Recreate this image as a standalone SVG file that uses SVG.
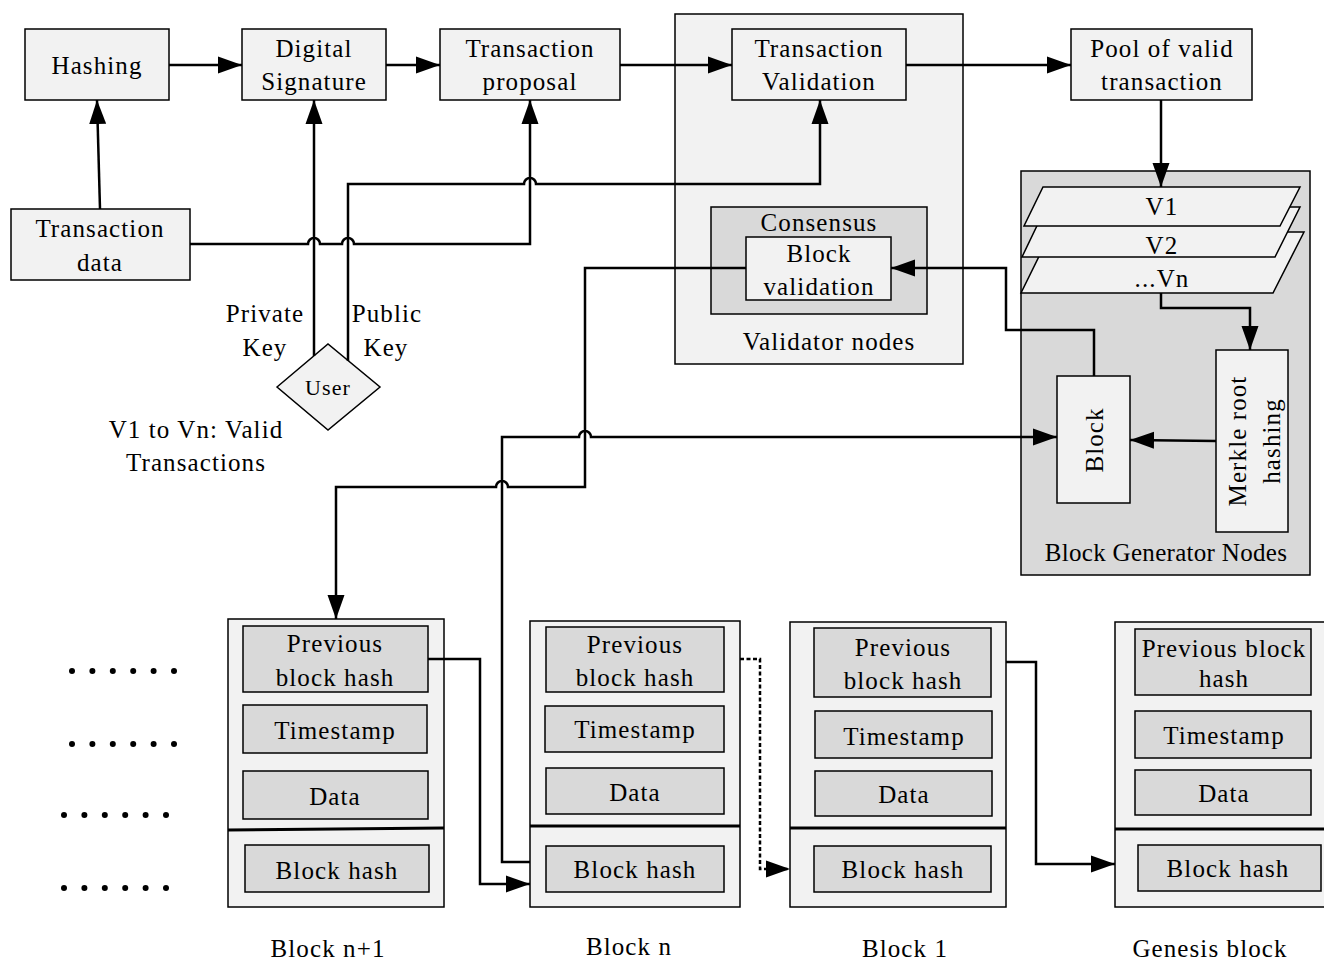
<svg xmlns="http://www.w3.org/2000/svg" width="1324" height="962" viewBox="0 0 1324 962">
<style>
text{font-family:"Liberation Serif","DejaVu Serif",serif;font-size:25px;fill:#000;text-anchor:middle;letter-spacing:1.1px}
.lt{fill:#f2f2f2;stroke:#000;stroke-width:1.5}
.dk{fill:#d9d9d9;stroke:#000;stroke-width:1.5}
.c{fill:none;stroke:#000;stroke-width:2.5}
.a{marker-end:url(#ah)}
.sep{stroke:#000;stroke-width:3.2}
.dot{fill:#000}
</style>
<defs>
<marker id="ah" markerUnits="userSpaceOnUse" markerWidth="26" markerHeight="20" refX="24" refY="10" orient="auto">
<path d="M0,1.5 L24,10 L0,18.5 Z" fill="#000"/>
</marker>
</defs>
<rect width="1324" height="962" fill="#fff"/>

<g id="validator-nodes">
<rect class="lt" x="675" y="14" width="288" height="350"/>
<text x="829" y="350">Validator nodes</text>
</g>
<g id="block-generator-nodes">
<rect class="dk" x="1021" y="171" width="289" height="404"/>
<text x="1166" y="561" style="letter-spacing:0.3px">Block Generator Nodes</text>
</g>

<g id="hashing"><rect class="lt" x="25" y="29" width="144" height="71"/><text x="97" y="74">Hashing</text></g>
<g id="digital-signature"><rect class="lt" x="242" y="29" width="144" height="71"/><text x="314" y="57">Digital</text><text x="314" y="90">Signature</text></g>
<g id="transaction-proposal"><rect class="lt" x="440" y="29" width="180" height="71"/><text x="530" y="57">Transaction</text><text x="530" y="90">proposal</text></g>
<g id="transaction-validation"><rect class="lt" x="732" y="29" width="174" height="71"/><text x="819" y="57">Transaction</text><text x="819" y="90">Validation</text></g>
<g id="pool"><rect class="lt" x="1071" y="29" width="181" height="71"/><text x="1162" y="57">Pool of valid</text><text x="1162" y="90">transaction</text></g>
<g id="transaction-data"><rect class="lt" x="11" y="209" width="179" height="71"/><text x="100" y="237">Transaction</text><text x="100" y="271">data</text></g>
<g id="user"><polygon class="lt" points="277,387 328,344 380,387 328,430"/><text x="328" y="395" style="font-size:22px">User</text></g>
<g id="consensus">
<rect class="dk" x="711" y="207" width="216" height="107"/>
<text x="819" y="231">Consensus</text>
</g>
<g id="block-validation"><rect class="lt" x="746" y="237" width="145" height="63"/><text x="819" y="262">Block</text><text x="819" y="295">validation</text></g>
<g id="vn"><polygon class="lt" points="1051,232 1304,232 1273,293 1021,293"/><text x="1162" y="287">...Vn</text></g>
<g id="v2"><polygon class="lt" points="1046,207 1300,207 1275,257 1022,257"/><text x="1162" y="254">V2</text></g>
<g id="v1"><polygon class="lt" points="1043,187 1300,187 1280,226 1024,226"/><text x="1162" y="215">V1</text></g>
<g id="merkle"><rect class="lt" x="1216" y="350" width="72" height="182"/>
<text transform="translate(1252,441) rotate(-90)" x="0" y="-6">Merkle root</text>
<text transform="translate(1252,441) rotate(-90)" x="0" y="28">hashing</text></g>
<g id="block"><rect class="lt" x="1057" y="376" width="73" height="127"/>
<text transform="translate(1094,440) rotate(-90)" x="0" y="9">Block</text></g>

<g id="labels">
<text x="265" y="322">Private</text><text x="265" y="356">Key</text>
<text x="387" y="322">Public</text><text x="386" y="356">Key</text>
<text x="196" y="438">V1 to Vn: Valid</text><text x="196" y="471">Transactions</text>
</g>

<g id="block-n1">
<rect class="lt" x="228" y="619" width="216" height="288"/>
<rect class="dk" x="243" y="626" width="185" height="66"/>
<rect class="dk" x="243" y="705" width="184" height="48"/>
<rect class="dk" x="243" y="771" width="185" height="48"/>
<line class="sep" x1="228" y1="830" x2="444" y2="828"/>
<rect class="dk" x="245" y="845" width="184" height="47"/>
<text x="335" y="652">Previous</text><text x="335" y="686">block hash</text>
<text x="335" y="739">Timestamp</text><text x="335" y="805">Data</text><text x="337" y="879">Block hash</text>
<text x="328" y="957">Block n+1</text>
</g>
<g id="block-n">
<rect class="lt" x="530" y="621" width="210" height="286"/>
<rect class="dk" x="546" y="627" width="178" height="65"/>
<rect class="dk" x="545" y="706" width="179" height="46"/>
<rect class="dk" x="546" y="768" width="178" height="46"/>
<line class="sep" x1="530" y1="826" x2="740" y2="826"/>
<rect class="dk" x="546" y="846" width="178" height="46"/>
<text x="635" y="653">Previous</text><text x="635" y="686">block hash</text>
<text x="635" y="738">Timestamp</text><text x="635" y="801">Data</text><text x="635" y="878">Block hash</text>
<text x="629" y="955">Block n</text>
</g>
<g id="block-1">
<rect class="lt" x="790" y="622" width="216" height="285"/>
<rect class="dk" x="814" y="628" width="177" height="69"/>
<rect class="dk" x="815" y="711" width="177" height="47"/>
<rect class="dk" x="815" y="771" width="177" height="45"/>
<line class="sep" x1="790" y1="828" x2="1006" y2="828"/>
<rect class="dk" x="814" y="846" width="177" height="46"/>
<text x="903" y="656">Previous</text><text x="903" y="689">block hash</text>
<text x="904" y="745">Timestamp</text><text x="904" y="803">Data</text><text x="903" y="878">Block hash</text>
<text x="905" y="957">Block 1</text>
</g>
<g id="genesis-block">
<rect class="lt" x="1115" y="622" width="215" height="285"/>
<rect class="dk" x="1135" y="629" width="176" height="66"/>
<rect class="dk" x="1135" y="711" width="176" height="47"/>
<rect class="dk" x="1135" y="770" width="176" height="45"/>
<line class="sep" x1="1115" y1="829" x2="1324" y2="829"/>
<rect class="dk" x="1138" y="845" width="183" height="46"/>
<text x="1224" y="657">Previous block</text><text x="1224" y="687">hash</text>
<text x="1224" y="744">Timestamp</text><text x="1224" y="802">Data</text><text x="1228" y="877">Block hash</text>
<text x="1210" y="957">Genesis block</text>
</g>

<g id="dots">
<circle class="dot" cx="72" cy="671" r="3"/><circle class="dot" cx="92.4" cy="671" r="3"/><circle class="dot" cx="112.8" cy="671" r="3"/><circle class="dot" cx="133.2" cy="671" r="3"/><circle class="dot" cx="153.6" cy="671" r="3"/><circle class="dot" cx="174" cy="671" r="3"/>
<circle class="dot" cx="72" cy="744" r="3"/><circle class="dot" cx="92.4" cy="744" r="3"/><circle class="dot" cx="112.8" cy="744" r="3"/><circle class="dot" cx="133.2" cy="744" r="3"/><circle class="dot" cx="153.6" cy="744" r="3"/><circle class="dot" cx="174" cy="744" r="3"/>
<circle class="dot" cx="64" cy="815" r="3"/><circle class="dot" cx="84.4" cy="815" r="3"/><circle class="dot" cx="104.8" cy="815" r="3"/><circle class="dot" cx="125.2" cy="815" r="3"/><circle class="dot" cx="145.6" cy="815" r="3"/><circle class="dot" cx="166" cy="815" r="3"/>
<circle class="dot" cx="64" cy="888" r="3"/><circle class="dot" cx="84.4" cy="888" r="3"/><circle class="dot" cx="104.8" cy="888" r="3"/><circle class="dot" cx="125.2" cy="888" r="3"/><circle class="dot" cx="145.6" cy="888" r="3"/><circle class="dot" cx="166" cy="888" r="3"/>
</g>

<g id="connectors">
<path class="c a" d="M169 65 L242 65"/>
<path class="c a" d="M386 65 L440 65"/>
<path class="c a" d="M620 65 L732 65"/>
<path class="c a" d="M906 65 L1071 65"/>
<path class="c a" d="M100 209 L97 100"/>
<path class="c a" d="M190 244 L308 244 A6 6 0 0 1 320 244 L342 244 A6 6 0 0 1 354 244 L530 244 L530 100"/>
<path class="c a" d="M314 356 L314 100"/>
<path class="c a" d="M348 361 L348 184 L524 184 A6 6 0 0 1 536 184 L820 184 L820 100"/>
<path class="c a" d="M1161 100 L1161 187"/>
<path class="c a" d="M1161 293 L1161 308 L1250 308 L1250 350"/>
<path class="c a" d="M1216 441 L1130 440"/>
<path class="c a" d="M1094 376 L1094 330 L1006 330 L1006 268 L891 268"/>
<path class="c a" d="M746 268 L585 268 L585 487 L508 487 A6 6 0 0 0 496 487 L336 487 L336 619"/>
<path class="c a" d="M530 862 L502 862 L502 437 L579 437 A6 6 0 0 1 591 437 L1057 437"/>
<path class="c a" d="M428 659 L480 659 L480 884 L530 884"/>
<path class="c a" d="M740 659 L760 659 L760 869 L790 869" stroke-dasharray="4 2.5"/>
<path class="c a" d="M1006 662 L1036 662 L1036 864 L1115 864"/>
</g>
</svg>
